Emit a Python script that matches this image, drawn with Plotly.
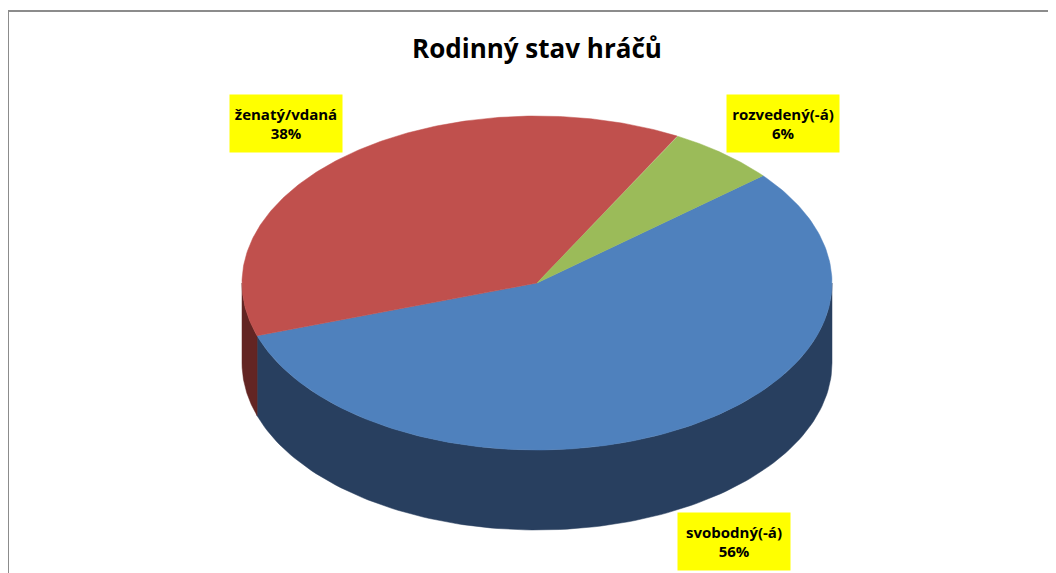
import numpy as np
import plotly.graph_objects as go

# ---- data ----
labels = ["svobodný(-á)", "ženatý/vdaná", "rozvedený(-á)"]
values = [56, 38, 6]
pct_text = ["56%", "38%", "6%"]
title_text = "Rodinný stav hráčů"

# ---- style / geometry ----
top_colors = ["#4F81BD", "#C0504D", "#9BBB59"]
side_colors = ["#283F5F", "#632523", "#4F6228"]
start_angle = 40.0           # degrees (math convention); slices run clockwise
OFF = 8                      # page body margin compensation
cx, cy, rx, ry, depth = 537 - OFF, 283 - OFF, 295, 167, 80
label_pos = [(734 - OFF, 541 - OFF), (286 - OFF, 123 - OFF), (783 - OFF, 123 - OFF)]

W, H = 1056, 573

fracs = np.array(values, dtype=float) / sum(values)
edges = start_angle - 360 * np.concatenate([[0], np.cumsum(fracs)])


def ell(a_deg, dz=0.0):
    a = np.radians(a_deg)
    return cx + rx * np.cos(a), cy - ry * np.sin(a) + dz


fig = go.Figure()

# side walls (front half only)
for i in range(len(values)):
    hi, lo = edges[i], edges[i + 1]
    for k in range(-3, 3):
        s0, s1 = 180 + 360 * k, 360 + 360 * k
        a1, a2 = max(lo, s0), min(hi, s1)
        if a2 - a1 > 1e-6:
            ang = np.linspace(a1, a2, 120)
            xt, yt = ell(ang)
            xb, yb = ell(ang[::-1], depth)
            xs = np.concatenate([xt, xb, [xt[0]]])
            ys = np.concatenate([yt, yb, [yt[0]]])
            fig.add_trace(go.Scatter(
                x=xs, y=ys, mode="lines", fill="toself",
                fillcolor=side_colors[i],
                line=dict(color=side_colors[i], width=0.5),
                hoverinfo="skip", showlegend=False))

# top faces
for i in range(len(values)):
    hi, lo = edges[i], edges[i + 1]
    ang = np.linspace(hi, lo, 200)
    xa, ya = ell(ang)
    xs = np.concatenate([[cx], xa, [cx]])
    ys = np.concatenate([[cy], ya, [cy]])
    fig.add_trace(go.Scatter(
        x=xs, y=ys, mode="lines", fill="toself",
        fillcolor=top_colors[i],
        line=dict(color=top_colors[i], width=0.5),
        name=labels[i], text=f"{labels[i]}: {pct_text[i]}",
        hoverinfo="text", showlegend=False))

# data labels
for i in range(len(values)):
    lx, ly = label_pos[i]
    fig.add_annotation(
        x=lx, y=ly, xref="x", yref="y",
        text=f"<b>{labels[i]}<br>{pct_text[i]}</b>",
        showarrow=False, bgcolor="#FFFF00",
        width=112, height=57, borderpad=0,
        font=dict(family="Open Sans", size=15, color="#000000"),
        align="center", valign="middle")

# title
fig.add_annotation(
    x=537 - OFF, y=48 - OFF, xref="x", yref="y",
    text=f"<b>{title_text}</b>", showarrow=False,
    font=dict(family="Open Sans", size=26, color="#000000"))

# chart border
fig.add_shape(type="rect", xref="x", yref="y",
              x0=8 - OFF, y0=11 - OFF, x1=W + 20, y1=H + 20,
              line=dict(color="#8C8C8C", width=2), layer="below")

fig.update_layout(
    width=W, height=H,
    margin=dict(l=0, r=0, t=0, b=0),
    paper_bgcolor="white", plot_bgcolor="white",
    xaxis=dict(range=[0, W], visible=False, fixedrange=True),
    yaxis=dict(range=[H, 0], visible=False, fixedrange=True),
    showlegend=False,
)

fig.write_html("out.html")
